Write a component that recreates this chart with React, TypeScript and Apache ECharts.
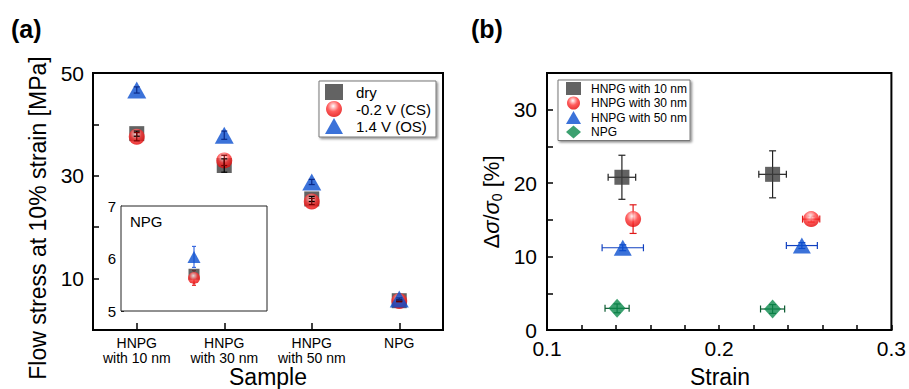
import React, { useEffect, useRef } from "react";
import * as echarts from "echarts";

const FONT = "'Liberation Sans', Arial, Helvetica, sans-serif";

// ---------- Panel (a) data ----------
const samples = ["HNPG\nwith 10 nm", "HNPG\nwith 30 nm", "HNPG\nwith 50 nm", "NPG"];
const dryStress = [38.2, 32.0, 25.5, 5.7];
const dryErr = [0.5, 1.3, 0.5, 0.15];
const csStress = [37.6, 33.0, 25.0, 5.63];
const csErr = [0.8, 1.0, 0.6, 0.14];
const osStress = [46.7, 37.9, 28.8, 6.03];
const osErr = [0.6, 0.8, 0.5, 0.2];
const leftYTicks = [10, 30, 50];
const insetYTicks = [5, 6, 7];

// ---------- Panel (b) data ----------
const hnpg10Strain = [0.1435, 0.231];
const hnpg10Dsig = [20.8, 21.2];
const hnpg10StrainErr = [0.008, 0.008];
const hnpg10DsigErr = [3.0, 3.2];

const hnpg30Strain = [0.150, 0.2534];
const hnpg30Dsig = [15.1, 15.1];
const hnpg30StrainErr = [0.0, 0.005];
const hnpg30DsigErr = [1.95, 0.4];

const hnpg50Strain = [0.144, 0.248];
const hnpg50Dsig = [11.2, 11.5];
const hnpg50StrainErr = [0.012, 0.009];
const hnpg50DsigErr = [0.4, 0.4];

const npgStrain = [0.1407, 0.231];
const npgDsig = [2.95, 2.86];
const npgStrainErr = [0.007, 0.007];
const npgDsigErr = [0.6, 0.6];

const redBall = {
  type: "radial",
  x: 0.45,
  y: 0.32,
  r: 0.7,
  colorStops: [
    { offset: 0, color: "#ffffff" },
    { offset: 0.18, color: "#ffb4b4" },
    { offset: 0.5, color: "#ff3535" },
    { offset: 1, color: "#e00000" },
  ],
};

const COL_DRY = "#3c3c3c";
const COL_BLUE = "#0a4fcf";
const COL_GREEN = "#0b8a4c";

function errRenderer(cap: number, lw: number) {
  return (params: any, api: any) => {
    const x = api.value(0);
    const y = api.value(1);
    const ex = api.value(2);
    const ey = api.value(3);
    const color = api.visual("color");
    const style = { stroke: color, lineWidth: lw };
    const children: any[] = [];
    if (ey > 0) {
      const top = api.coord([x, y + ey]);
      const bot = api.coord([x, y - ey]);
      children.push({ type: "line", shape: { x1: top[0], y1: top[1], x2: bot[0], y2: bot[1] }, style });
      children.push({ type: "line", shape: { x1: top[0] - cap, y1: top[1], x2: top[0] + cap, y2: top[1] }, style });
      children.push({ type: "line", shape: { x1: bot[0] - cap, y1: bot[1], x2: bot[0] + cap, y2: bot[1] }, style });
    }
    if (ex > 0) {
      const l = api.coord([x - ex, y]);
      const r = api.coord([x + ex, y]);
      children.push({ type: "line", shape: { x1: l[0], y1: l[1], x2: r[0], y2: r[1] }, style });
      children.push({ type: "line", shape: { x1: l[0], y1: l[1] - cap, x2: l[0], y2: l[1] + cap }, style });
      children.push({ type: "line", shape: { x1: r[0], y1: r[1] - cap, x2: r[0], y2: r[1] + cap }, style });
    }
    return { type: "group", children };
  };
}

function errSeries(name: string, xi: number, yi: number, data: number[][], color: string, z: number, cap = 3) {
  return {
    type: "custom",
    name,
    xAxisIndex: xi,
    yAxisIndex: yi,
    renderItem: errRenderer(cap, 1.2),
    itemStyle: { color },
    encode: { x: 0, y: 1 },
    data,
    z,
    silent: true,
  };
}

function pairs(xs: number[], ys: number[]) {
  return xs.map((x, i) => [x, ys[i]]);
}
function errData(xs: number[], ys: number[], exs: number[], eys: number[]) {
  return xs.map((x, i) => [x, ys[i], exs[i], eys[i]]);
}

export default function App() {
  const ref = useRef<HTMLDivElement>(null);
  useEffect(() => {
    if (!ref.current) return;
    const chart = echarts.init(ref.current, undefined, { renderer: "svg" });
    const axisLine = { show: true, lineStyle: { color: "#000", width: 2 } };
    const tick = (len: number) => ({ show: true, inside: true, length: len, lineStyle: { color: "#000", width: 1.5 } });

    const option: any = {
      animation: false,
      textStyle: { fontFamily: FONT },
      grid: [
        { left: 93, top: 73, width: 350, height: 257, show: true, borderColor: "#000", borderWidth: 2 },
        { left: 121, top: 206, width: 146, height: 105, show: true, borderColor: "#222", borderWidth: 1, backgroundColor: "#fff", z: 3 },
        { left: 547, top: 73, width: 346, height: 257, show: true, borderColor: "#000", borderWidth: 2 },
      ],
      xAxis: [
        {
          gridIndex: 0,
          type: "category",
          data: samples,
          boundaryGap: true,
          axisLine,
          axisTick: { ...tick(7), alignWithLabel: true },
          axisLabel: { interval: 0, fontSize: 14, lineHeight: 15, color: "#000", margin: 5, fontFamily: FONT },
          splitLine: { show: false },
        },
        { gridIndex: 1, type: "value", min: 0, max: 2, show: false },
        {
          gridIndex: 2,
          type: "value",
          min: 0.1,
          max: 0.3,
          interval: 0.02,
          axisLine,
          axisTick: tick(5),
          axisLabel: {
            fontSize: 21,
            color: "#000",
            margin: 8,
            fontFamily: FONT,
            formatter: (v: number) => (Math.abs(v * 10 - Math.round(v * 10)) < 1e-6 ? v.toFixed(1) : ""),
          },
          splitLine: { show: false },
        },
      ],
      yAxis: [
        {
          gridIndex: 0,
          type: "value",
          min: 0,
          max: 50,
          interval: 10,
          axisLine,
          axisTick: tick(6),
          axisLabel: {
            fontSize: 21,
            color: "#000",
            margin: 9,
            fontFamily: FONT,
            formatter: (v: number) => (leftYTicks.includes(v) ? String(v) : ""),
          },
          splitLine: { show: false },
        },
        {
          gridIndex: 1,
          type: "value",
          min: 5,
          max: 7,
          interval: 0.5,
          axisLine: { show: true, lineStyle: { color: "#222", width: 1 } },
          axisTick: { show: true, inside: true, length: 3, lineStyle: { color: "#222", width: 1 } },
          axisLabel: {
            fontSize: 15,
            color: "#000",
            margin: 5,
            fontFamily: FONT,
            formatter: (v: number) => (insetYTicks.includes(v) ? String(v) : ""),
          },
          splitLine: { show: false },
        },
        {
          gridIndex: 2,
          type: "value",
          min: 0,
          max: 35,
          interval: 5,
          axisLine,
          axisTick: tick(6),
          axisLabel: {
            fontSize: 21,
            color: "#000",
            margin: 10,
            fontFamily: FONT,
            formatter: (v: number) => (v % 10 === 0 ? String(v) : ""),
          },
          splitLine: { show: false },
        },
      ],
      legend: [
        {
          data: ["dry", "-0.2 V (CS)", "1.4 V (OS)"],
          orient: "vertical",
          left: 319,
          top: 81,
          itemWidth: 18,
          itemHeight: 16,
          itemGap: 1,
          padding: [3, 5, 3, 6],
          textStyle: { fontSize: 15, color: "#000", fontFamily: FONT, padding: [0, 0, 0, 8] },
          borderColor: "#777",
          borderWidth: 1,
          backgroundColor: "#fff",
          shadowBlur: 2,
          shadowColor: "rgba(0,0,0,0.45)",
          shadowOffsetX: 1.5,
          shadowOffsetY: 1.5,
          selectedMode: false,
        },
        {
          data: ["HNPG with 10 nm", "HNPG with 30 nm", "HNPG with 50 nm", "NPG"],
          orient: "vertical",
          left: 558,
          top: 80,
          itemWidth: 15,
          itemHeight: 13,
          itemGap: 1.5,
          padding: [2, 3, 2, 8],
          textStyle: { fontSize: 12, color: "#000", fontFamily: FONT, padding: [0, 0, 0, 5] },
          borderColor: "#777",
          borderWidth: 1,
          backgroundColor: "#fff",
          shadowBlur: 2,
          shadowColor: "rgba(0,0,0,0.45)",
          shadowOffsetX: 1.5,
          shadowOffsetY: 1.5,
          selectedMode: false,
        },
      ],
      series: [
        // Panel (a) main
        { type: "scatter", name: "dry", xAxisIndex: 0, yAxisIndex: 0, symbol: "rect", symbolSize: 15, itemStyle: { color: COL_DRY }, data: dryStress, z: 2 },
        { type: "scatter", name: "-0.2 V (CS)", xAxisIndex: 0, yAxisIndex: 0, symbol: "circle", symbolSize: 16, itemStyle: { color: redBall }, data: csStress, z: 3 },
        { type: "scatter", name: "1.4 V (OS)", xAxisIndex: 0, yAxisIndex: 0, symbol: "triangle", symbolSize: [19, 17], itemStyle: { color: COL_BLUE }, data: osStress, z: 3 },
        errSeries("dry err", 0, 0, dryStress.map((v, i) => [i, v, 0, dryErr[i]]), "#000", 5),
        errSeries("cs err", 0, 0, csStress.map((v, i) => [i, v, 0, csErr[i]]), "#7a0000", 5),
        errSeries("os err", 0, 0, osStress.map((v, i) => [i, v, 0, osErr[i]]), "#0a2a8a", 5),
        // Inset (NPG)
        { type: "scatter", name: "inset dry", xAxisIndex: 1, yAxisIndex: 1, symbol: "rect", symbolSize: 11, itemStyle: { color: COL_DRY }, data: [[1, dryStress[3]]], z: 6 },
        { type: "scatter", name: "inset cs", xAxisIndex: 1, yAxisIndex: 1, symbol: "circle", symbolSize: 12, itemStyle: { color: redBall }, data: [[1, csStress[3]]], z: 7 },
        { type: "scatter", name: "inset os", xAxisIndex: 1, yAxisIndex: 1, symbol: "triangle", symbolSize: [13, 12], itemStyle: { color: COL_BLUE }, data: [[1, osStress[3]]], z: 7 },
        errSeries("inset cs err", 1, 1, [[1, csStress[3], 0, csErr[3]]], "#e02020", 6, 2),
        errSeries("inset os err", 1, 1, [[1, osStress[3], 0, osErr[3]]], "#3a6ae0", 6, 2),
        // Panel (b)
        errSeries("h10 err", 2, 2, errData(hnpg10Strain, hnpg10Dsig, hnpg10StrainErr, hnpg10DsigErr), "#222", 1, 3.5),
        errSeries("h30 err", 2, 2, errData(hnpg30Strain, hnpg30Dsig, hnpg30StrainErr, hnpg30DsigErr), "#e01818", 1, 3.5),
        errSeries("h50 err", 2, 2, errData(hnpg50Strain, hnpg50Dsig, hnpg50StrainErr, hnpg50DsigErr), "#1040c0", 1, 3.5),
        errSeries("npg err", 2, 2, errData(npgStrain, npgDsig, npgStrainErr, npgDsigErr), "#0a5a30", 1, 3.5),
        { type: "scatter", name: "HNPG with 10 nm", xAxisIndex: 2, yAxisIndex: 2, symbol: "rect", symbolSize: 15, itemStyle: { color: COL_DRY }, data: pairs(hnpg10Strain, hnpg10Dsig), z: 3 },
        { type: "scatter", name: "HNPG with 30 nm", xAxisIndex: 2, yAxisIndex: 2, symbol: "circle", symbolSize: 16, itemStyle: { color: redBall }, data: pairs(hnpg30Strain, hnpg30Dsig), z: 3 },
        { type: "scatter", name: "HNPG with 50 nm", xAxisIndex: 2, yAxisIndex: 2, symbol: "triangle", symbolSize: [18, 16], itemStyle: { color: COL_BLUE }, data: pairs(hnpg50Strain, hnpg50Dsig), z: 3 },
        { type: "scatter", name: "NPG", xAxisIndex: 2, yAxisIndex: 2, symbol: "diamond", symbolSize: [17, 19], itemStyle: { color: COL_GREEN }, data: pairs(npgStrain, npgDsig), z: 3 },
      ],
      graphic: [
        { type: "text", x: 11, y: 29, z: 10, style: { text: "(a)", fontSize: 25, fontWeight: "bold", fontFamily: FONT, fill: "#000", align: "left", verticalAlign: "middle", textAlign: "left", textVerticalAlign: "middle" } },
        { type: "text", x: 471, y: 29, z: 10, style: { text: "(b)", fontSize: 25, fontWeight: "bold", fontFamily: FONT, fill: "#000", align: "left", verticalAlign: "middle", textAlign: "left", textVerticalAlign: "middle" } },
        { type: "text", x: 130, y: 221, z: 10, style: { text: "NPG", fontSize: 15, fontFamily: FONT, fill: "#000", align: "left", verticalAlign: "middle", textAlign: "left", textVerticalAlign: "middle" } },
        { type: "text", x: 38, y: 218, rotation: Math.PI / 2, z: 10, style: { text: "Flow stress at 10% strain [MPa]", fontSize: 23, fontFamily: FONT, fill: "#000", align: "center", verticalAlign: "middle", textAlign: "center", textVerticalAlign: "middle" } },
        { type: "text", x: 268, y: 377, z: 10, style: { text: "Sample", fontSize: 23, fontFamily: FONT, fill: "#000", align: "center", verticalAlign: "middle", textAlign: "center", textVerticalAlign: "middle" } },
        { type: "text", x: 720, y: 377, z: 10, style: { text: "Strain", fontSize: 23, fontFamily: FONT, fill: "#000", align: "center", verticalAlign: "middle", textAlign: "center", textVerticalAlign: "middle" } },
        {
          type: "text",
          x: 491,
          y: 202,
          rotation: Math.PI / 2,
          z: 10,
          style: {
            text: "{n|Δ}{s|σ}{n|/}{s|σ}{sub|0}{n| [%]}",
            fontFamily: FONT,
            fill: "#000",
            align: "center",
            verticalAlign: "middle",
            textAlign: "center",
            textVerticalAlign: "middle",
            rich: {
              n: { fontSize: 22, fontFamily: FONT, fill: "#000", lineHeight: 26 },
              s: { fontSize: 22, fontFamily: FONT, fontStyle: "italic", fill: "#000", lineHeight: 26 },
              sub: { fontSize: 14, fontFamily: FONT, fill: "#000", lineHeight: 26, verticalAlign: "bottom", padding: [0, 0, 0, 0] },
            },
          },
        },
      ],
    };
    chart.setOption(option);
    return () => chart.dispose();
  }, []);
  return <div ref={ref} style={{ position: "fixed", left: 0, top: 0, width: 909, height: 389, background: "#fff" }} />;
}
